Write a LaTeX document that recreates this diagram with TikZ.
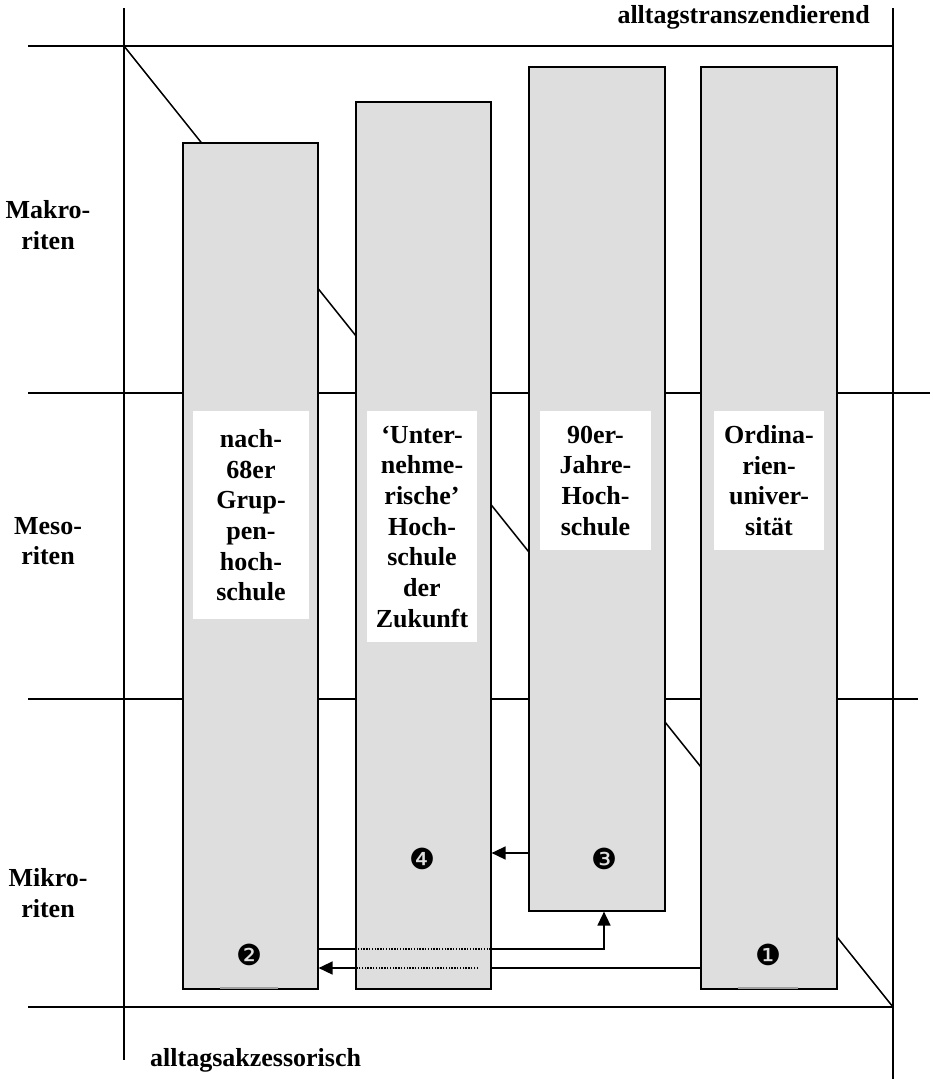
\documentclass[tikz,border=0pt]{standalone}
\usepackage{fontspec}
\setmainfont{Liberation Serif}
\newfontfamily\dvfont{DejaVu Sans}
\usetikzlibrary{arrows.meta}
\definecolor{colgray}{HTML}{DEDEDE}
\begin{document}
\begin{tikzpicture}[x=1pt,y=-1pt,
  gridline/.style={line width=1.5pt},
  column/.style={draw, line width=1.6pt, fill=colgray, anchor=north west, inner sep=0pt},
  boxlabel/.style={fill=white, inner sep=0pt, align=center, anchor=north,
    font=\fontsize{26}{30.7}\selectfont\bfseries},
  sidelabel/.style={align=center, inner sep=0pt, font=\fontsize{26}{30.7}\selectfont\bfseries},
  num/.style={inner sep=0pt, font=\fontsize{29}{29}\selectfont\dvfont},
  conn/.style={line width=1.6pt},
  arr/.style={line width=1.6pt, -{Triangle[length=14pt,width=13pt]}},
  dots/.style={line width=1.4pt, dash pattern=on 1.4pt off 1.4pt},
  bottomgap/.style={line width=1.6pt, draw=gray!75}]
\useasboundingbox (0,0) rectangle (933,1079);
% grid
\draw[gridline] (124,8) -- (124,1060);
\draw[gridline] (893,8) -- (893,1079);
\draw[gridline] (28,46) -- (893,46);
\draw[gridline] (28,393) -- (930,393);
\draw[gridline] (28,699) -- (918,699);
\draw[gridline] (28,1007) -- (893,1007);
\draw[gridline] (124,46) -- (893,1007);
% columns
\node[column, minimum width=135pt, minimum height=846pt] (c1) at (182,142) {};
\node[column, minimum width=135pt, minimum height=887pt] (c2) at (355,101) {};
\node[column, minimum width=136pt, minimum height=844pt] (c3) at (528,66) {};
\node[column, minimum width=136pt, minimum height=922pt] (c4) at (700,66) {};
\draw[bottomgap] (220,988) -- (278,988);
\draw[bottomgap] (738,988) -- (798,988);
% labels in columns
\node[boxlabel, text width=116pt, minimum height=208pt] (l1) at (251,411) {nach-\\68er\\Grup-\\pen-\\hoch-\\schule};
\node[boxlabel, text width=110pt, minimum height=231pt] (l2) at (422,411) {‘Unter-\\nehme-\\rische’\\Hoch-\\schule\\der\\Zukunft};
\node[boxlabel, text width=111pt, minimum height=139pt] (l3) at (595.5,411) {90er-\\Jahre-\\Hoch-\\schule};
\node[boxlabel, text width=110pt, minimum height=139pt] (l4) at (769,411) {Ordina-\\rien-\\univer-\\sität};
% side labels
\node[sidelabel] (makro) at (48,225) {Makro-\\riten};
\node[sidelabel] (meso) at (48,541) {Meso-\\riten};
\node[sidelabel] (mikro) at (48,893) {Mikro-\\riten};
\node[sidelabel, anchor=east] (top) at (870,17) {alltagstranszendierend};
\node[sidelabel, anchor=west] (bottom) at (150,1060) {alltagsakzessorisch};
% numbers
\node[num] (n1) at (768,955) {❶};
\node[num] (n2) at (249,955) {❷};
\node[num] (n3) at (604,859) {❸};
\node[num] (n4) at (422,859) {❹};
% connectors
\coordinate (ra) at (0,853);
\coordinate (k) at (604,949);
\coordinate (rc) at (0,968);
\coordinate (dc) at (478,968);
\draw[arr] (c3.west |- ra) -- (c2.east |- ra);
\draw[conn] (c1.east |- k) -- (c2.west |- k);
\draw[dots] (c2.west |- k) -- (c2.east |- k);
\draw[arr] (c2.east |- k) -- (k) -- (k |- c3.south);
\draw[conn] (c4.west |- rc) -- (c2.east |- rc);
\draw[dots] (dc) -- (c2.west |- rc);
\draw[arr] (c2.west |- rc) -- (c1.east |- rc);
\end{tikzpicture}
\end{document}
